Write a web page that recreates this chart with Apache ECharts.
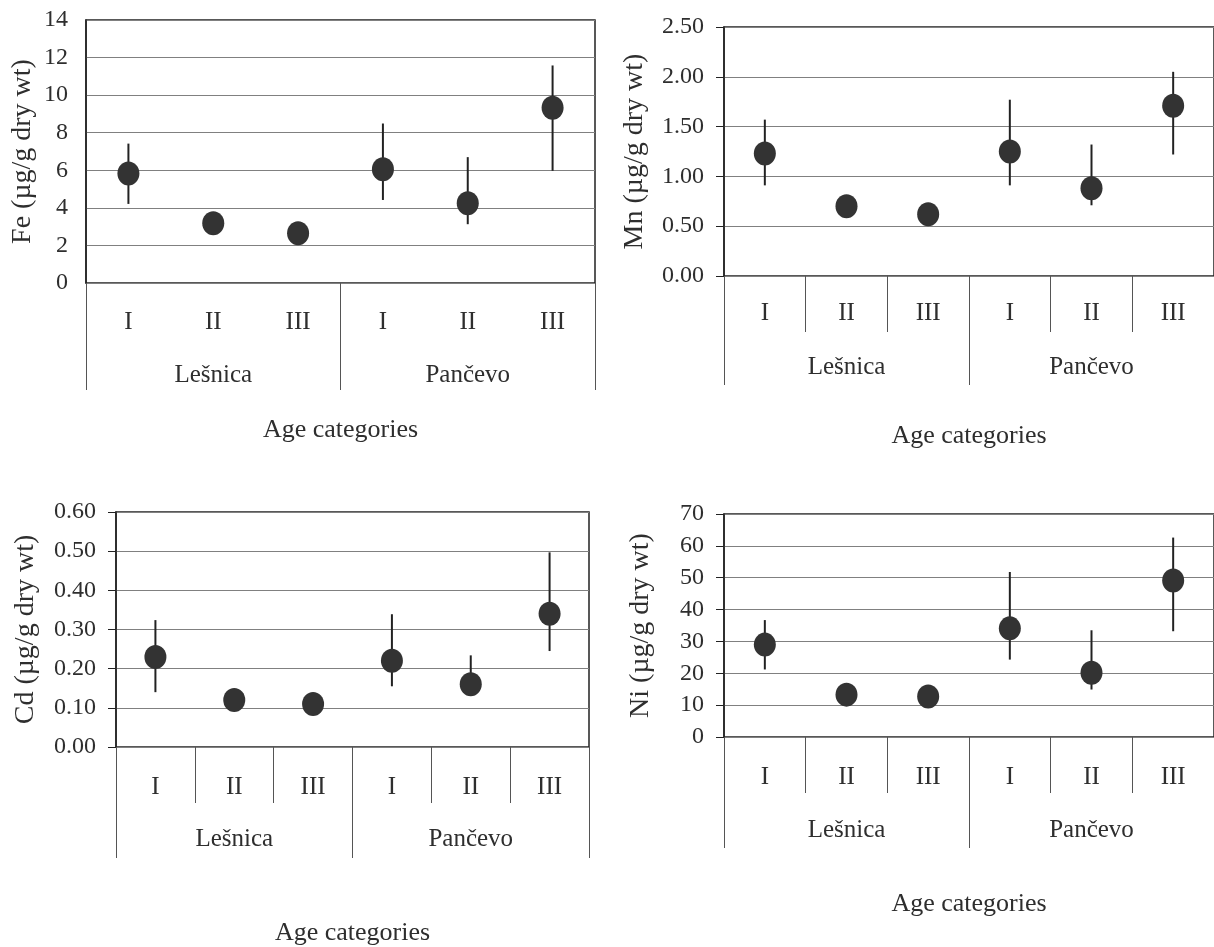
<!DOCTYPE html>
<html>
<head>
<meta charset="utf-8">
<script src="https://cdn.jsdelivr.net/npm/echarts@6/dist/echarts.min.js"></script>
<style>
  html, body { margin: 0; padding: 0; background: #fff; }
  #chart { width: 1214px; height: 947px; }
</style>
</head>
<body>
<div id="chart"></div>
<script>
const ages = ['I', 'II', 'III', 'I', 'II', 'III']
const sites = ['Lešnica', 'Pančevo']
const xTitle = 'Age categories'

// Fe
const feMean = [5.83, 3.18, 2.65, 6.05, 4.24, 9.33]
const feLow = [4.21, 3.0, 2.5, 4.42, 3.13, 5.97]
const feHigh = [7.42, 3.3, 2.8, 8.49, 6.70, 11.58]
// Mn
const mnMean = [1.23, 0.70, 0.62, 1.25, 0.88, 1.71]
const mnLow = [0.91, 0.66, 0.59, 0.91, 0.71, 1.22]
const mnHigh = [1.57, 0.74, 0.65, 1.77, 1.32, 2.05]
// Cd
const cdMean = [0.23, 0.12, 0.11, 0.22, 0.16, 0.34]
const cdLow = [0.14, 0.11, 0.10, 0.155, 0.15, 0.245]
const cdHigh = [0.324, 0.13, 0.12, 0.339, 0.234, 0.497]
// Ni
const niMean = [29.0, 13.3, 12.7, 34.1, 20.2, 49.1]
const niLow = [21.2, 12.5, 12.0, 24.3, 14.9, 33.2]
const niHigh = [36.7, 14.0, 13.5, 51.8, 33.5, 62.6]

const FONT = 'Liberation Serif'
const TEXT = '#2e2e2e'

const panels = [
  { name: 'Fe (µg/g dry wt)', mean: feMean, low: feLow, high: feHigh, max: 14, step: 2, dec: 0,
    grid: { left: 86, top: 20, width: 509, height: 263 }, inner: false, yTicks: false,
    nameGap: 49, lab1: 27, lab2: 80, tick2: 107, titleGap: 134 },
  { name: 'Mn (µg/g dry wt)', mean: mnMean, low: mnLow, high: mnHigh, max: 2.5, step: 0.5, dec: 2,
    grid: { left: 724, top: 27, width: 493, height: 249 }, inner: true, yTicks: true,
    nameGap: 75, lab1: 25, lab2: 79, tick2: 109, titleGap: 147 },
  { name: 'Cd (µg/g dry wt)', mean: cdMean, low: cdLow, high: cdHigh, max: 0.6, step: 0.1, dec: 2,
    grid: { left: 116, top: 512, width: 473, height: 237 }, inner: true, yTicks: true,
    nameGap: 76, lab1: 28, lab2: 80, tick2: 111, titleGap: 173 },
  { name: 'Ni (µg/g dry wt)', mean: niMean, low: niLow, high: niHigh, max: 70, step: 10, dec: 0,
    grid: { left: 724, top: 514, width: 493, height: 223 }, inner: true, yTicks: true,
    nameGap: 69, lab1: 28, lab2: 81, tick2: 111, titleGap: 154 }
]

const grid = [], xAxis = [], yAxis = [], series = []

panels.forEach((p, i) => {
  grid.push(Object.assign({ show: true, borderColor: '#222', borderWidth: 1.5, backgroundColor: '#fff' }, p.grid))
  // age categories
  xAxis.push({
    type: 'category', gridIndex: i, data: ages, position: 'bottom',
    axisLine: { show: false },
    axisTick: { show: p.inner, length: 56, lineStyle: { color: '#555', width: 1 } },
    axisLabel: { margin: p.lab1, fontFamily: FONT, fontSize: 25, color: TEXT }
  })
  // site groups
  xAxis.push({
    type: 'category', gridIndex: i, data: sites, position: 'bottom',
    axisLine: { show: false },
    axisTick: { show: true, length: p.tick2, lineStyle: { color: '#555', width: 1 } },
    axisLabel: { margin: p.lab2, fontFamily: FONT, fontSize: 25, color: TEXT },
    name: xTitle, nameLocation: 'middle', nameGap: p.titleGap,
    nameTextStyle: { fontFamily: FONT, fontSize: 26, color: TEXT }
  })
  yAxis.push({
    type: 'value', gridIndex: i, min: 0, max: p.max, interval: p.step,
    name: p.name, nameLocation: 'middle', nameGap: p.nameGap,
    nameTextStyle: { fontFamily: FONT, fontSize: 28, color: TEXT },
    axisLine: { show: true, lineStyle: { color: '#222', width: 1.5 } },
    axisTick: { show: p.yTicks, length: 8, lineStyle: { color: '#222' } },
    axisLabel: { margin: p.yTicks ? 20 : 18, fontFamily: FONT, fontSize: 24, color: TEXT,
      formatter: v => v.toFixed(p.dec) },
    splitLine: { show: true, lineStyle: { color: '#808080', width: 1 } }
  })
  series.push({
    type: 'custom', xAxisIndex: i * 2, yAxisIndex: i, z: 2,
    data: p.mean.map((m, k) => [k, p.low[k], p.high[k]]),
    renderItem: (params, api) => {
      const a = api.coord([api.value(0), api.value(1)])
      const b = api.coord([api.value(0), api.value(2)])
      return { type: 'line', shape: { x1: a[0], y1: a[1], x2: b[0], y2: b[1] },
        style: { stroke: '#222', lineWidth: 2 } }
    }
  })
  series.push({
    type: 'scatter', xAxisIndex: i * 2, yAxisIndex: i, z: 3,
    symbol: 'circle', symbolSize: [22, 24],
    itemStyle: { color: '#333', opacity: 1 },
    data: p.mean.map((m, k) => [k, m])
  })
})

const chart = echarts.init(document.getElementById('chart'))
chart.setOption({ animation: false, grid, xAxis, yAxis, series })
</script>
</body>
</html>
